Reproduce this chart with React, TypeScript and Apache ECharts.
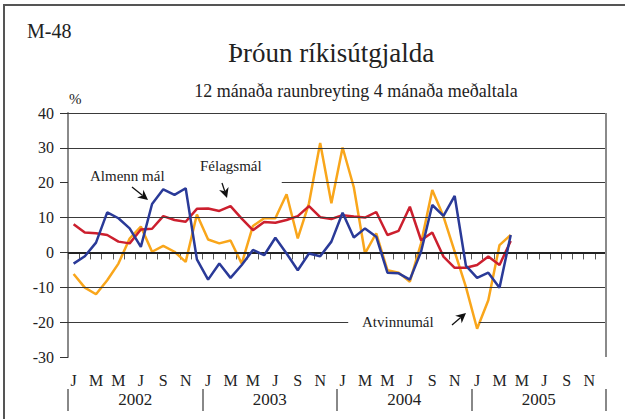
import React, { useEffect, useRef } from "react";
import * as echarts from "echarts";

const years = ["2002", "2003", "2004", "2005"];
const monthLetters = ["J", "F", "M", "A", "M", "J", "J", "A", "S", "O", "N", "D"];
const categories: string[] = [];
years.forEach((y) => monthLetters.forEach((_, i) => categories.push(`${y}-${i + 1}`)));

// Félagsmál (red)
const felagsmal = [
  8.1, 5.7, 5.5, 5.0, 3.1, 2.6, 6.6, 6.8, 10.4, 9.3, 8.8, 12.5,
  12.6, 11.9, 13.3, 9.7, 6.4, 8.7, 8.5, 9.3, 10.4, 13.3, 10.1, 9.6,
  10.7, 10.3, 10.0, 11.6, 5.0, 6.2, 13.1, 3.5, 5.7, -1.2, -4.4, -4.4,
  -3.6, -1.2, -3.6, 3.3,
];
// Almenn mál (blue)
const almennMal = [
  -3.2, -1.1, 2.8, 11.5, 9.8, 6.9, 1.6, 13.9, 18.1, 16.5, 18.4, -2.0,
  -7.8, -3.2, -7.3, -3.6, 0.7, -0.8, 4.2, -0.3, -5.1, -0.3, -1.1, 3.1,
  11.4, 4.3, 6.9, 4.5, -5.8, -6.0, -7.8, 0.2, 13.6, 10.5, 16.2, -3.8,
  -7.3, -5.8, -10.1, 5.0,
];
// Atvinnumál (orange)
const atvinnumal = [
  -6.2, -10.1, -12.0, -8.0, -3.2, 4.0, 7.4, 0.2, 1.9, 0.2, -2.7, 10.9,
  3.7, 2.6, 3.4, -3.2, 7.6, 9.8, 9.8, 16.7, 4.0, 14.1, 31.4, 14.1,
  30.1, 18.7, -0.3, 5.5, -5.1, -5.8, -8.4, 2.6, 17.9, 10.3, 0.2, -9.9,
  -21.9, -13.7, 2.1, 5.0,
];

const yTicks = { min: -30, max: 40, interval: 10 };

// horizontal reference lines: [value, fromMonth, toMonth]
const gridSegments: [number, number, number][] = [
  [40, 0, 48],
  [30, 0, 48],
  [20, 19.07, 48],
  [10, 0, 48],
  [-10, 0, 48],
  [-20, 0, 25.0],
  [-20, 36.7, 48],
];

const FONT = "'Liberation Serif', 'Times New Roman', serif";

function arrow(x1: number, y1: number, x2: number, y2: number) {
  const dx = x2 - x1;
  const dy = y2 - y1;
  const len = Math.sqrt(dx * dx + dy * dy);
  const ux = dx / len;
  const uy = dy / len;
  const nx = -uy;
  const ny = ux;
  const L = 10;
  const W = 5;
  const bx = x2 - ux * L;
  const by = y2 - uy * L;
  const nxp = x2 - ux * L * 0.7;
  const nyp = y2 - uy * L * 0.7;
  return [
    {
      type: "line",
      shape: { x1, y1, x2: nxp, y2: nyp },
      style: { stroke: "#111", lineWidth: 1.3 },
      silent: true,
    },
    {
      type: "polygon",
      shape: {
        points: [
          [x2, y2],
          [bx + nx * W, by + ny * W],
          [nxp, nyp],
          [bx - nx * W, by - ny * W],
        ],
      },
      style: { fill: "#111" },
      silent: true,
    },
  ];
}

export default function App() {
  const ref = useRef<HTMLDivElement>(null);

  useEffect(() => {
    if (!ref.current) return;
    const chart = echarts.init(ref.current, null, { renderer: "svg" });

    const markData: any[] = gridSegments.map(([v, a, b]) => [
      { coord: [a, v] },
      { coord: [b, v] },
    ]);

    const txt = (text: string, x: number, y: number, size: number, align = "left") => ({
      type: "text",
      x,
      y,
      style: {
        text,
        fontSize: size,
        fontFamily: FONT,
        fill: "#222",
        align,
        verticalAlign: "middle",
      },
    });

    const option: any = {
      animation: false,
      backgroundColor: "#ffffff",
      textStyle: { fontFamily: FONT },
      grid: {
        left: 68,
        right: 19,
        top: 113,
        bottom: 62,
        outerBoundsMode: "none",
      },
      xAxis: [
        {
          type: "category",
          data: categories,
          boundaryGap: true,
          position: "bottom",
          axisLine: { show: true, lineStyle: { color: "#8a8a8a", width: 2 } },
          axisTick: {
            show: true,
            interval: 0,
            length: 7,
            lineStyle: { color: "#555", width: 1 },
          },
          axisLabel: {
            interval: 1,
            margin: 15,
            fontSize: 16,
            color: "#222",
            fontFamily: FONT,
            formatter: (_v: string, idx: number) => monthLetters[idx % 12],
          },
          splitLine: { show: false },
        },
        {
          type: "category",
          data: years,
          boundaryGap: true,
          position: "bottom",
          offset: 32,
          axisLine: { show: false },
          axisTick: {
            show: true,
            interval: 0,
            length: 22,
            lineStyle: { color: "#888", width: 2 },
          },
          axisLabel: {
            interval: 0,
            margin: 2,
            fontSize: 17,
            color: "#222",
            fontFamily: FONT,
          },
          splitLine: { show: false },
        },
        {
          type: "value",
          min: 0,
          max: 48,
          show: false,
        },
      ],
      yAxis: {
        type: "value",
        min: yTicks.min,
        max: yTicks.max,
        interval: yTicks.interval,
        axisLine: { show: true, lineStyle: { color: "#8a8a8a", width: 2 } },
        axisTick: { show: true, length: 8, lineStyle: { color: "#333", width: 1 } },
        axisLabel: { margin: 14, fontSize: 16, color: "#222", fontFamily: FONT },
        splitLine: { show: false },
      },
      series: [
        {
          type: "line",
          xAxisIndex: 2,
          yAxisIndex: 0,
          data: [],
          silent: true,
          z: 1,
          markLine: {
            silent: true,
            symbol: ["none", "none"],
            label: { show: false },
            lineStyle: { type: "solid", color: "#3a3a3a", width: 1.2 },
            data: [
              ...markData,
              [
                { coord: [0, 0], lineStyle: { color: "#222", width: 2 } },
                { coord: [48, 0] },
              ],
              [
                { coord: [48, yTicks.min], lineStyle: { color: "#8a8a8a", width: 2 } },
                { coord: [48, yTicks.max] },
              ],
            ],
          },
        },
        {
          name: "Atvinnumál",
          type: "line",
          data: atvinnumal,
          symbol: "none",
          z: 3,
          lineStyle: { color: "#F9A61B", width: 2.5 },
          itemStyle: { color: "#F9A61B" },
        },
        {
          name: "Félagsmál",
          type: "line",
          data: felagsmal,
          symbol: "none",
          z: 4,
          lineStyle: { color: "#CC1F2E", width: 2.5 },
          itemStyle: { color: "#CC1F2E" },
        },
        {
          name: "Almenn mál",
          type: "line",
          data: almennMal,
          symbol: "none",
          z: 5,
          lineStyle: { color: "#2A3A98", width: 2.5 },
          itemStyle: { color: "#2A3A98" },
        },
      ],
      graphic: [
        {
          type: "rect",
          shape: { x: 4, y: 5, width: 700, height: 500 },
          style: { fill: "none", stroke: "#555", lineWidth: 2 },
          silent: true,
          z: 0,
        },
        txt("M-48", 27, 31, 20),
        txt("Þróun ríkisútgjalda", 331, 53, 27, "center"),
        txt("12 mánaða raunbreyting 4 mánaða meðaltala", 356, 91, 18, "center"),
        txt("%", 69, 99, 15),
        txt("Almenn mál", 90, 176, 15),
        txt("Félagsmál", 200, 166, 15),
        txt("Atvinnumál", 362, 322, 15),
        ...arrow(132, 187, 148, 200),
        ...arrow(222, 183, 227, 198),
        ...arrow(452, 325, 466, 313),
      ],
    };

    chart.setOption(option);
    return () => chart.dispose();
  }, []);

  return (
    <div
      ref={ref}
      style={{ position: "fixed", left: 0, top: 0, width: 625, height: 419 }}
    />
  );
}
